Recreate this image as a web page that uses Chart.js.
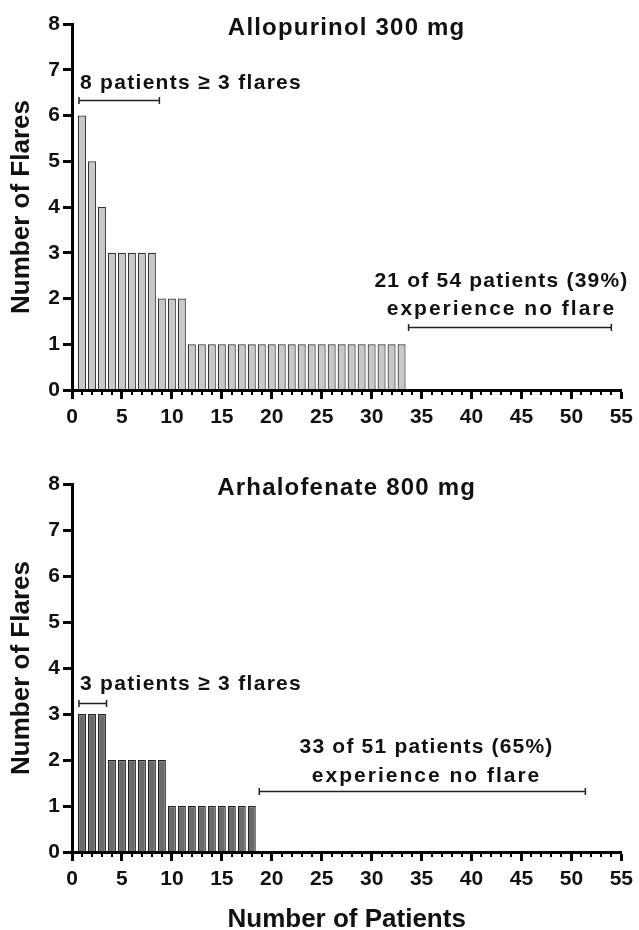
<!DOCTYPE html>
<html lang="en">
<head>
<meta charset="UTF-8">
<title>Flares per patient</title>
<script src="https://cdn.jsdelivr.net/npm/chart.js"></script>
<style>
  body { margin: 0; background: #fff; }
  .panel { position: absolute; left: 0; width: 639px; }
  #topPanel { top: 0; height: 450px; }
  #bottomPanel { top: 450px; height: 480px; }
</style>
</head>
<body>
<div class="panel" id="topPanel"><canvas id="allopurinolChart"></canvas></div>
<div class="panel" id="bottomPanel"><canvas id="arhalofenateChart"></canvas></div>
<script>
// flares per patient, highest first (patients without a flare have no bar)
const allopurinolFlares = [6, 5, 4, 3, 3, 3, 3, 3, 2, 2, 2,
  1, 1, 1, 1, 1, 1, 1, 1, 1, 1, 1, 1, 1, 1, 1, 1, 1, 1, 1, 1, 1, 1];
const arhalofenateFlares = [3, 3, 3, 2, 2, 2, 2, 2, 2,
  1, 1, 1, 1, 1, 1, 1, 1, 1];

const xMax = 55, xStep = 5;
const yMax = 8, yStep = 1;

const FONT = '"Liberation Sans", Arial, sans-serif';
const INK = '#111';

// small ticks on every patient between the labelled ones
const minorTicks = {
  id: 'minorTicks',
  afterDraw(chart) {
    const x = chart.scales.x, ctx = chart.ctx;
    const y0 = chart.chartArea.bottom;
    ctx.save();
    ctx.strokeStyle = '#000';
    ctx.lineWidth = 2;
    for (let v = x.min; v <= x.max; v++) {
      if (v % xStep === 0) continue;
      const px = Math.round(x.getPixelForValue(v));
      ctx.beginPath();
      ctx.moveTo(px, y0);
      ctx.lineTo(px, y0 + 5);
      ctx.stroke();
    }
    ctx.restore();
  }
};

// panel title, text notes and range brackets, placed in data units
const notes = {
  id: 'notes',
  afterDatasetsDraw(chart, args, opts) {
    const { ctx, chartArea, scales: { x, y } } = chart;
    ctx.save();
    ctx.fillStyle = INK;
    ctx.textBaseline = 'alphabetic';

    ctx.font = 'bold 24px ' + FONT;
    ctx.letterSpacing = '1.2px';
    ctx.textAlign = 'center';
    ctx.fillText(opts.title, (chartArea.left + chartArea.right) / 2, y.getPixelForValue(7.77));

    ctx.font = 'bold 21px ' + FONT;
    opts.texts.forEach(t => {
      ctx.letterSpacing = t.spacing + 'px';
      ctx.textAlign = t.align;
      ctx.fillText(t.text, x.getPixelForValue(t.x), y.getPixelForValue(t.y));
    });

    ctx.strokeStyle = '#222';
    ctx.lineWidth = 1.5;
    opts.brackets.forEach(b => {
      const x1 = x.getPixelForValue(b.from), x2 = x.getPixelForValue(b.to);
      const py = Math.round(y.getPixelForValue(b.y)) + 0.5;
      ctx.beginPath();
      ctx.moveTo(x1, py); ctx.lineTo(x2, py);
      ctx.moveTo(x1, py - 3.5); ctx.lineTo(x1, py + 3.5);
      ctx.moveTo(x2, py - 3.5); ctx.lineTo(x2, py + 3.5);
      ctx.stroke();
    });
    ctx.restore();
  }
};

function makeChart(id, flares, fill, edge, topPad, xHeight, showXTitle, note) {
  return new Chart(document.getElementById(id), {
    type: 'bar',
    data: {
      datasets: [{
        data: flares.map((v, i) => ({ x: i + 1, y: v })),
        backgroundColor: fill,
        borderColor: edge,
        borderWidth: 1.2,
        borderSkipped: 'start',
        categoryPercentage: 0.8,
        barPercentage: 1
      }]
    },
    plugins: [minorTicks, notes],
    options: {
      responsive: true,
      maintainAspectRatio: false,
      animation: false,
      layout: { padding: { left: 0, right: 16, top: topPad, bottom: 0 } },
      plugins: {
        legend: { display: false },
        tooltip: { enabled: false },
        notes: note
      },
      scales: {
        x: {
          type: 'linear',
          min: 0,
          max: xMax,
          offset: false,
          afterFit(s) { s.height = xHeight; },
          border: { color: '#000', width: 3, z: 1 },
          grid: { drawOnChartArea: false, offset: false, tickLength: 9, tickWidth: 3, tickColor: '#000' },
          ticks: {
            stepSize: xStep, autoSkip: false, maxRotation: 0, padding: 6, color: INK,
            font: { family: FONT, size: 21, weight: 'bold' }
          },
          title: {
            display: showXTitle,
            text: 'Number of Patients',
            color: INK,
            padding: { top: 0, bottom: 0 },
            font: { family: FONT, size: 26, weight: 'bold', lineHeight: 0.8 }
          }
        },
        y: {
          min: 0,
          max: yMax,
          afterFit(s) { s.width = 72; },
          border: { color: '#000', width: 3, z: 1 },
          grid: { drawOnChartArea: false, tickLength: 9, tickWidth: 3, tickColor: '#000' },
          ticks: {
            stepSize: yStep, padding: 3, color: INK,
            font: { family: FONT, size: 21, weight: 'bold' }
          },
          title: {
            display: true,
            text: 'Number of Flares',
            color: INK,
            padding: { top: 6, bottom: 0 },
            font: { family: FONT, size: 26, weight: 'bold' }
          }
        }
      }
    }
  });
}

makeChart('allopurinolChart', allopurinolFlares, '#c8c8c8', '#333', 24, 60, false, {
  title: 'Allopurinol 300 mg',
  texts: [
    { text: '8 patients \u2265 3 flares', x: 0.8, y: 6.58, align: 'left', spacing: 1.3 },
    { text: '21 of 54 patients (39%)', x: 43.0, y: 2.25, align: 'center', spacing: 1.2 },
    { text: 'experience no flare', x: 43.0, y: 1.64, align: 'center', spacing: 2 }
  ],
  brackets: [
    { from: 0.7, to: 8.75, y: 6.34 },
    { from: 33.7, to: 54.0, y: 1.38 }
  ]
});

makeChart('arhalofenateChart', arhalofenateFlares, '#6a6a6a', '#222', 34, 78, true, {
  title: 'Arhalofenate 800 mg',
  texts: [
    { text: '3 patients \u2265 3 flares', x: 0.8, y: 3.52, align: 'left', spacing: 1.3 },
    { text: '33 of 51 patients (65%)', x: 35.5, y: 2.15, align: 'center', spacing: 1.2 },
    { text: 'experience no flare', x: 35.5, y: 1.52, align: 'center', spacing: 2 }
  ],
  brackets: [
    { from: 0.7, to: 3.46, y: 3.24 },
    { from: 18.75, to: 51.4, y: 1.33 }
  ]
});
</script>
</body>
</html>
